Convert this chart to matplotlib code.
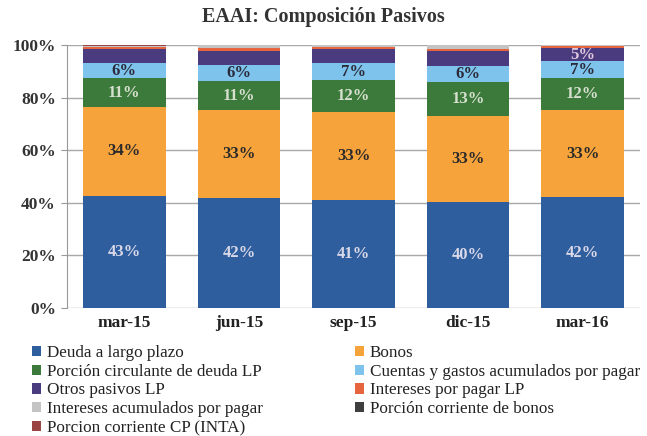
import matplotlib
matplotlib.use("Agg")
import matplotlib.pyplot as plt
import numpy as np

categories = ["mar-15", "jun-15", "sep-15", "dic-15", "mar-16"]
series_names = ["Deuda a largo plazo", "Bonos", "Porción circulante de deuda LP",
                "Cuentas y gastos acumulados por pagar", "Otros pasivos LP",
                "Intereses por pagar LP", "Intereses acumulados por pagar",
                "Porción corriente de bonos", "Porcion corriente CP (INTA)"]
deuda = [42.6, 41.8, 41.2, 40.2, 42.1]
bonos = [33.9, 33.4, 33.3, 32.9, 33.2]
circulante = [10.8, 11.0, 12.1, 12.8, 12.0]
cuentas = [5.8, 6.2, 6.6, 6.2, 6.6]
otros = [5.2, 5.4, 5.3, 5.5, 4.9]
intereses_lp = [1.0, 0.9, 0.9, 0.9, 1.0]
intereses_acum = [0.4, 1.2, 0.5, 1.5, 0.1]
porcion_bonos = [0.0, 0.0, 0.0, 0.0, 0.0]
porcion_cp = [0.3, 0.1, 0.1, 0.0, 0.1]

labels = {
    0: ["43%", "42%", "41%", "40%", "42%"],
    1: ["34%", "33%", "33%", "33%", "33%"],
    2: ["11%", "11%", "12%", "13%", "12%"],
    3: ["6%", "6%", "7%", "6%", "7%"],
    4: ["", "", "", "", "5%"],
}

colors = ["#2F5E9E", "#F7A33B", "#3B7A3B", "#7EC3EC", "#4A3A7E",
          "#E6653E", "#C4C4C4", "#3F3F3F", "#9A4444"]
label_colors = {0: "#D8D8E8", 1: "#2A2A2A", 2: "#D8E0D0", 3: "#2A2A3A", 4: "#E0C8E0"}

data = [deuda, bonos, circulante, cuentas, otros, intereses_lp,
        intereses_acum, porcion_bonos, porcion_cp]

plt.rcParams['font.family'] = ['Liberation Serif', 'DejaVu Serif']

fig = plt.figure(figsize=(6.47, 4.36), dpi=100)
ax = fig.add_axes([67/647, 1-308/436, 573/647, 263/436])

x = np.arange(len(categories))
bottom = np.zeros(len(categories))
handles = []
for i, (name, vals) in enumerate(zip(series_names, data)):
    v = np.array(vals)
    b = ax.bar(x, v, bottom=bottom, width=0.72, color=colors[i], label=name, zorder=3)
    handles.append(b)
    if i in labels:
        for j in range(len(categories)):
            if labels[i][j]:
                ax.text(x[j], bottom[j] + v[j]/2, labels[i][j], ha="center", va="center",
                        fontsize=12, fontweight="bold", color=label_colors[i], zorder=4)
    bottom += v

ax.set_ylim(0, 100)
ax.set_xlim(-0.5, len(categories)-0.5)
ax.set_yticks(np.arange(0, 101, 20))
ax.set_yticklabels([f"{t}%" for t in range(0, 101, 20)], fontsize=12.5, fontweight="bold", color="#333333")
ax.set_xticks(x)
ax.set_xticklabels(categories, fontsize=12.5, fontweight="bold", color="#222222")
ax.yaxis.grid(True, color="#A8A8A8", linewidth=1, zorder=0)
for s in ["top", "right", "bottom"]:
    ax.spines[s].set_visible(False)
ax.spines["left"].set_color("#999999")
ax.tick_params(axis="x", length=0, pad=5)
ax.tick_params(axis="y", length=4, color="#999999", pad=4, direction="out")

fig.text(0.5, 1-17/436, "EAAI: Composición Pasivos", ha="center", va="center",
         fontsize=14.5, fontweight="bold", color="#333333")

col1 = [0, 2, 4, 6, 8]
col2 = [1, 3, 5, 7]
common = dict(loc="upper left", frameon=False, fontsize=12.3,
              handlelength=0.55, handleheight=0.55, handletextpad=0.3,
              labelspacing=0.16, borderaxespad=0, borderpad=0)
leg1 = fig.legend(handles=[handles[i] for i in col1], labels=[series_names[i] for i in col1],
                  bbox_to_anchor=(32/647, 1-345/436), **common)
leg2 = fig.legend(handles=[handles[i] for i in col2], labels=[series_names[i] for i in col2],
                  bbox_to_anchor=(355/647, 1-345/436), **common)
for leg in (leg1, leg2):
    for t in leg.get_texts():
        t.set_color("#222222")

fig.savefig("out.png", dpi=100)
